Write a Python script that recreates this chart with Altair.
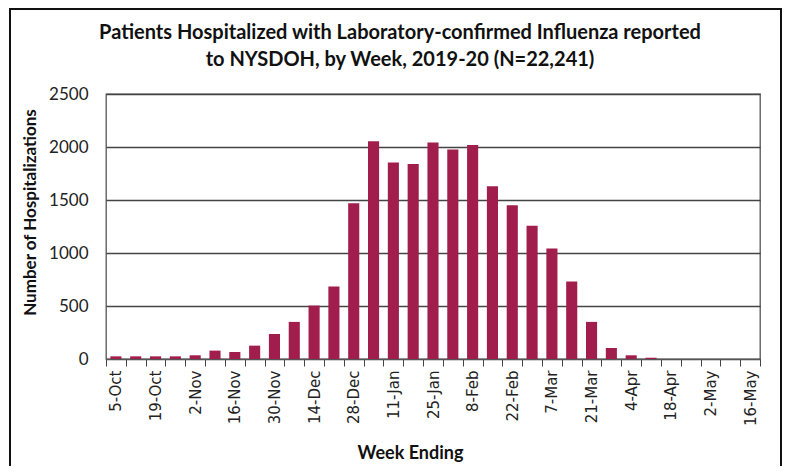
import json
import altair as alt
import pandas as pd

weeks = ["5-Oct", "12-Oct", "19-Oct", "26-Oct", "2-Nov", "9-Nov", "16-Nov", "23-Nov",
         "30-Nov", "7-Dec", "14-Dec", "21-Dec", "28-Dec", "4-Jan", "11-Jan", "18-Jan",
         "25-Jan", "1-Feb", "8-Feb", "15-Feb", "22-Feb", "29-Feb", "7-Mar", "14-Mar",
         "21-Mar", "28-Mar", "4-Apr", "11-Apr", "18-Apr", "25-Apr", "2-May", "9-May", "16-May"]
hospitalizations = [25, 25, 25, 25, 35, 79, 66, 126, 236, 350, 504, 684, 1469, 2055, 1853,
                    1840, 2043, 1976, 2020, 1629, 1450, 1258, 1043, 731, 350, 104, 35, 12,
                    0, 0, 0, 0, 0]
shown_labels = weeks[::2]
y_ticks = [0, 500, 1000, 1500, 2000, 2500]

title_lines = ["Patients Hospitalized  with Laboratory-confirmed Influenza reported",
               "to NYSDOH, by Week, 2019-20 (N=22,241)"]

df = pd.DataFrame({"week": weeks, "hosp": hospitalizations})

label_expr = "indexof(" + json.dumps(shown_labels) + ", datum.value) >= 0 ? datum.value : ''"

bars = alt.Chart(df).mark_bar(color="#A11D4B", width=alt.RelativeBandSize(0.56)).encode(
    x=alt.X("week:N", sort=weeks,
            scale=alt.Scale(paddingInner=0, paddingOuter=0),
            axis=alt.Axis(title="Week Ending", labelExpr=label_expr, labelAngle=-90,
                          labelFont="DejaVu Sans", labelFontSize=15, labelColor="#222",
                          labelPadding=4, tickBand="extent", tickSize=7, tickColor="#444",
                          domainColor="#555", titleFont="Lato", titleFontSize=18,
                          titleFontWeight="bold", titleColor="#111", titleX=304, titleY=94,
                          titleBaseline="middle", titleAlign="center")),
    y=alt.Y("hosp:Q", scale=alt.Scale(domain=[0, 2500]),
            axis=alt.Axis(title="Number of Hospitalizations", values=y_ticks, format="d",
                          tickSize=0, domain=False, gridColor="#444", gridWidth=1.3,
                          labelFont="Lato", labelFontSize=17, labelColor="#222",
                          labelPadding=18, titleFont="Lato", titleFontSize=17,
                          titleFontWeight="bold", titleColor="#111", titleX=-76, titleY=118,
                          titleAlign="center", titleBaseline="middle")),
)

# thin outer frame around the whole figure (kept inside the drawable svg area)
frame = alt.Chart(alt.Data(values=[{"a": 1}])).mark_rect(
    fillOpacity=0, fill="white", stroke="#111", strokeWidth=2, clip=False
).encode(
    x=alt.value(-96), x2=alt.value(675), y=alt.value(-85), y2=alt.value(420)
)

chart = alt.layer(frame, bars).properties(
    width=654, height=265,
    title=alt.Title(title_lines, font="Lato", fontSize=20, fontWeight="bold", color="#111",
                    anchor="middle", frame="group", dx=-33, offset=-62, lineHeight=27),
    autosize=alt.AutoSizeParams(type="none"),
    padding={"left": 98, "top": 86, "right": 23, "bottom": 107},
).configure_view(stroke="#555", strokeWidth=1.3)

chart.save("out.html", embed_options={"renderer": "svg", "actions": False})
